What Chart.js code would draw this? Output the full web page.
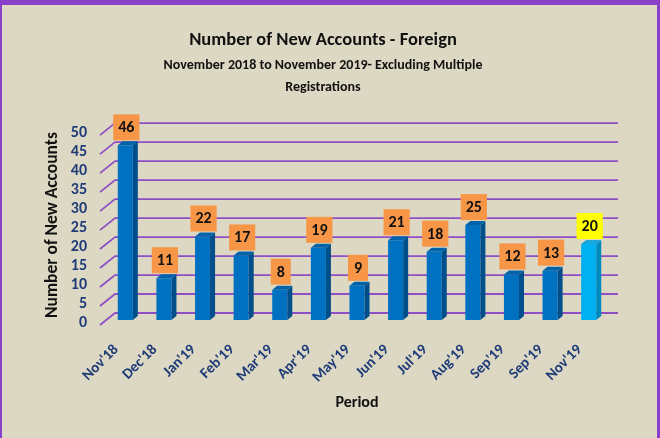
<!DOCTYPE html>
<html><head><meta charset="utf-8">
<script src="https://cdn.jsdelivr.net/npm/chart.js@4.4.1/dist/chart.umd.min.js"></script>
<style>
html,body{margin:0;padding:0;background:#ffffff;}
#frame{position:absolute;left:0;top:0;width:655px;height:433px;background:#DDD8C3;border-top:5px solid #8A40C8;border-left:2px solid #8A40C8;border-right:3px solid #8A40C8;}
#wrap{position:absolute;left:0;top:0;width:660px;height:438px;}
</style></head>
<body>
<div id="frame"></div>
<div id="wrap"><canvas id="c" width="660" height="438"></canvas></div>
<script>
const categories = ["Nov'18","Dec'18","Jan'19","Feb'19","Mar'19","Apr'19","May'19","Jun'19","Jul'19","Aug'19","Sep'19","Sep'19","Nov'19"];
const accounts = [46, 11, 22, 17, 8, 19, 9, 21, 18, 25, 12, 13, 20];
const yTicks = [0, 5, 10, 15, 20, 25, 30, 35, 40, 45, 50];
const titleText = "Number of New Accounts - Foreign";
const subtitleLines = ["November 2018 to November 2019- Excluding Multiple", "Registrations"];

const FONT = "Carlito, Lato, 'Noto Sans', sans-serif";
const frontColors = accounts.map((v, i) => i === accounts.length - 1 ? '#00B0F0' : '#0070C0');
const sideColors = accounts.map((v, i) => i === accounts.length - 1 ? '#0089BF' : '#004E8A');
const topColors = accounts.map((v, i) => i === accounts.length - 1 ? '#1AA6DB' : '#0062A8');
const labelBg = accounts.map((v, i) => i === accounts.length - 1 ? '#FFFF00' : '#F79646');

const gridPlugin = {
  id: 'grid3d',
  beforeDatasetsDraw(chart) {
    const {ctx, chartArea, scales: {y}} = chart;
    ctx.save();
    ctx.strokeStyle = '#8F4FC4';
    ctx.lineWidth = 1.8;
    yTicks.forEach(v => {
      const py = y.getPixelForValue(v);
      ctx.beginPath();
      ctx.moveTo(chartArea.left - 6, py + 5);
      ctx.lineTo(chartArea.left + 9, py - 7);
      ctx.lineTo(chartArea.right + 10, py - 7);
      ctx.stroke();
    });
    ctx.restore();
  }
};

const barsPlugin = {
  id: 'bars3d',
  afterDatasetsDraw(chart) {
    const {ctx} = chart;
    const meta = chart.getDatasetMeta(0);
    const dx = 5, dy = 4;
    ctx.save();
    meta.data.forEach((bar, i) => {
      const {x, y, base, width} = bar.getProps(['x','y','base','width'], true);
      const l = x - width / 2, r = x + width / 2;
      ctx.fillStyle = sideColors[i];
      ctx.beginPath();
      ctx.moveTo(r, y); ctx.lineTo(r + dx, y - dy); ctx.lineTo(r + dx, base - dy); ctx.lineTo(r, base);
      ctx.closePath(); ctx.fill();
      ctx.fillStyle = topColors[i];
      ctx.beginPath();
      ctx.moveTo(l, y); ctx.lineTo(l + dx, y - dy); ctx.lineTo(r + dx, y - dy); ctx.lineTo(r, y);
      ctx.closePath(); ctx.fill();
      const txt = String(accounts[i]);
      ctx.font = "bold 16px " + FONT;
      const tw = ctx.measureText(txt).width;
      const bw = Math.max(tw + 10, 20), bh = 26;
      const cx = x + 1;
      const bottom = y - dy - 1;
      ctx.fillStyle = labelBg[i];
      ctx.fillRect(cx - bw / 2, bottom - bh, bw, bh);
      ctx.fillStyle = '#111111';
      ctx.textAlign = 'center';
      ctx.textBaseline = 'middle';
      ctx.fillText(txt, cx, bottom - bh / 2 + 1);
    });
    ctx.restore();
  }
};

new Chart(document.getElementById('c'), {
  type: 'bar',
  data: {
    labels: categories,
    datasets: [{
      data: accounts,
      backgroundColor: frontColors,
      borderWidth: 0,
      categoryPercentage: 1,
      barPercentage: 0.39
    }]
  },
  options: {
    responsive: false,
    animation: false,
    layout: {padding: {left: 38, right: 52, top: 0, bottom: 25}},
    plugins: {
      legend: {display: false},
      tooltip: {enabled: false},
      title: {
        display: true, text: titleText, color: '#111111',
        font: {family: FONT, size: 18.5, weight: 'bold', lineHeight: 1.2},
        padding: {top: 29, bottom: 3}
      },
      subtitle: {
        display: true, text: subtitleLines, color: '#111111',
        font: {family: FONT, size: 14, weight: 'bold', lineHeight: 1.57},
        padding: {top: 0, bottom: 32}
      }
    },
    scales: {
      x: {
        grid: {display: false, drawTicks: false},
        border: {display: false},
        ticks: {
          color: '#1F3C78', maxRotation: 45, minRotation: 45, padding: 21, labelOffset: -9,
          autoSkip: false,
          font: {family: FONT, size: 15, weight: 'bold'}
        },
        title: {
          display: true, text: 'Period', color: '#111111',
          font: {family: FONT, size: 16, weight: 'bold', lineHeight: 1.2},
          padding: {top: 4, bottom: 0}
        },
        afterFit(s) { s.height = 93; }
      },
      y: {
        min: 0, max: 50,
        grid: {display: false, drawTicks: false},
        border: {display: false},
        afterBuildTicks(s) { s.ticks = yTicks.map(v => ({value: v})); },
        ticks: {
          color: '#1F3C78', padding: 19, labelOffset: 3, autoSkip: false,
          font: {family: FONT, size: 16, weight: 'bold'}
        },
        title: {
          display: true, text: 'Number of New Accounts', color: '#111111',
          font: {family: FONT, size: 17.5, weight: 'bold', lineHeight: 1.2},
          padding: {top: 4, bottom: 0}
        },
        afterFit(s) { s.width = 68; }
      }
    }
  },
  plugins: [gridPlugin, barsPlugin]
});
</script>
</body></html>
